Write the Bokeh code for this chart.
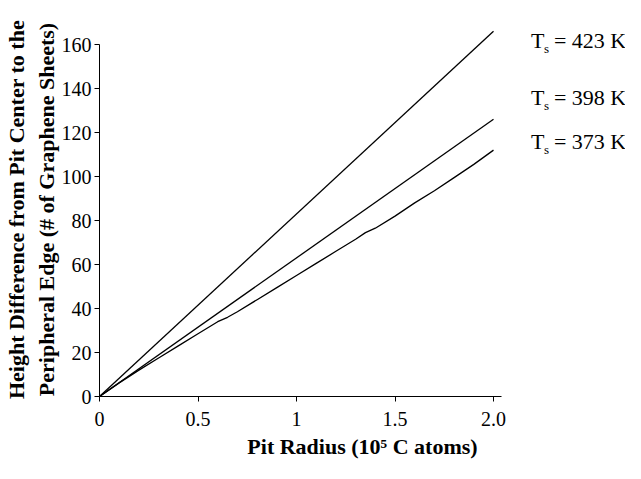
from bokeh.plotting import figure
from bokeh.models import Label, FixedTicker, Range1d
from bokeh.embed import file_html
from bokeh.resources import INLINE

# data
x_423 = [0.0, 2.0]
y_423 = [0.0, 166.0]
x_398 = [0.0, 2.0]
y_398 = [0.0, 126.0]
x_373 = [0.0, 0.1, 0.2, 0.3, 0.4, 0.5, 0.6, 0.65, 0.7, 0.8, 0.9, 1.0, 1.1, 1.2, 1.3, 1.35, 1.4, 1.5, 1.6, 1.7, 1.8, 1.9, 2.0]
y_373 = [0.0, 6.2, 12.0, 17.5, 23.0, 28.5, 34.0, 36.0, 38.5, 44.0, 49.5, 55.0, 60.5, 66.0, 71.5, 74.5, 76.5, 82.0, 88.0, 93.5, 99.5, 105.5, 112.0]
x_ticks = [0, 0.5, 1, 1.5, 2.0]
x_tick_labels = ["0", "0.5", "1", "1.5", "2.0"]
y_ticks = [0, 20, 40, 60, 80, 100, 120, 140, 160]
series_labels = ["423 K", "398 K", "373 K"]
label_y = [162, 136, 116]

SERIF = "Liberation Serif"

p = figure(width=625, height=463, output_backend="svg", toolbar_location=None,
           x_range=Range1d(0, 2.67), y_range=Range1d(0, 170),
           min_border_left=91, min_border_right=0, min_border_top=22, min_border_bottom=67)
p.outline_line_color = None
p.grid.visible = False
p.background_fill_color = "white"
p.border_fill_color = "white"

for xs, ys in [(x_423, y_423), (x_398, y_398), (x_373, y_373)]:
    p.line(xs, ys, line_color="black", line_width=1.3)

p.xaxis.ticker = FixedTicker(ticks=x_ticks)
p.xaxis.major_label_overrides = {t: l for t, l in zip(x_ticks, x_tick_labels)}
p.yaxis.ticker = FixedTicker(ticks=y_ticks)
p.xaxis.bounds = (0, 2.04)
p.yaxis.bounds = (0, 160)
for ax in (p.xaxis, p.yaxis):
    ax.minor_tick_line_color = None
    ax.major_tick_in = 0
    ax.major_tick_out = 5
    ax.axis_line_color = "black"
    ax.major_tick_line_color = "black"
    ax.major_label_text_font = SERIF
    ax.major_label_text_font_size = "20px"
    ax.major_label_text_color = "black"
    ax.axis_label_text_font = SERIF
    ax.axis_label_text_font_style = "bold"
    ax.axis_label_text_font_size = "22px"
    ax.axis_label_text_color = "black"

p.xaxis.major_label_standoff = 10
p.yaxis.major_label_standoff = 3
p.xaxis.axis_label = "Pit Radius (10\u2075 C atoms)"
p.xaxis.axis_label_standoff = 5
p.yaxis.axis_label = "Height Difference from Pit Center to the\nPeripheral Edge (# of Graphene Sheets)"
p.yaxis.axis_label_standoff = 0

for lab, ly in zip(series_labels, label_y):
    p.add_layout(Label(x=2.19, y=ly, text="T", text_font=SERIF, text_font_size="22px",
                       text_baseline="middle", text_color="black"))
    p.add_layout(Label(x=2.19, y=ly, x_offset=13, y_offset=-8, text="s", text_font=SERIF,
                       text_font_size="13px", text_baseline="middle", text_color="black"))
    p.add_layout(Label(x=2.19, y=ly, x_offset=23, text="= " + lab, text_font=SERIF,
                       text_font_size="22px", text_baseline="middle", text_color="black"))

open("out.html", "w").write(file_html(p, INLINE))
